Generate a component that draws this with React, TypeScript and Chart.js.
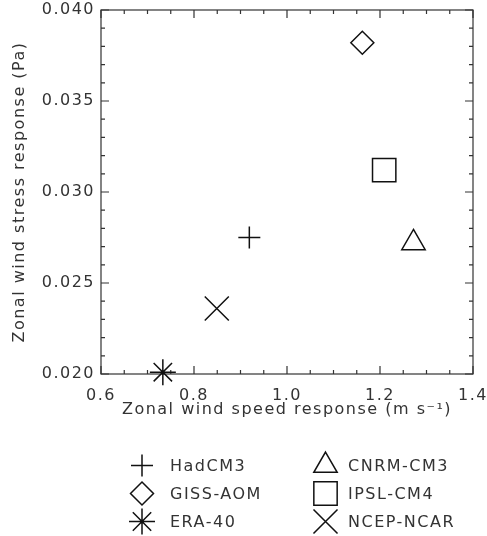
import React, { useEffect, useRef } from "react";
import { Chart, registerables } from "chart.js";
import { drawPoint } from "chart.js/helpers";

Chart.register(...registerables);

const modelNames = ["HadCM3", "GISS-AOM", "ERA-40", "CNRM-CM3", "IPSL-CM4", "NCEP-NCAR"];
const windSpeedResponse = [0.919, 1.162, 0.733, 1.272, 1.209, 0.849];
const windStressResponse = [0.0275, 0.0382, 0.0201, 0.0272, 0.0312, 0.0236];
const markerStyles = ["cross", "rectRot", "star", "triangle", "rect", "crossRot"];
const markerRadii = [11, 11.5, 13, 13.5, 16.5, 17];

const xTitle = "Zonal wind speed response (m s\u207B\u00B9)";
const yTitle = "Zonal wind stress response (Pa)";

const FONT = "'DejaVu Sans', sans-serif";
const FS = 16;
const TEXT_COLOR = "#333";
const LINE_COLOR = "#111";
const LS = "1.5px";

const spacingPlugin = {
  id: "spacing",
  beforeUpdate(chart: any) {
    chart.ctx.letterSpacing = LS;
  },
  beforeDraw(chart: any) {
    chart.ctx.letterSpacing = LS;
  },
};

const framePlugin = {
  id: "frame",
  beforeDatasetsDraw(chart: any) {
    const { ctx, chartArea } = chart;
    const xs = chart.scales.x;
    const ys = chart.scales.y;
    const { left, right, top, bottom } = chartArea;
    ctx.save();
    ctx.strokeStyle = "#333";
    ctx.lineWidth = 1.2;
    ctx.strokeRect(left, top, right - left, bottom - top);
    const major = 8;
    const minor = 4;
    ctx.beginPath();
    for (let i = 0; i <= 16; i++) {
      const v = 0.6 + i * 0.05;
      const px = xs.getPixelForValue(v);
      const len = i % 4 === 0 ? major : minor;
      ctx.moveTo(px, bottom);
      ctx.lineTo(px, bottom - len);
      ctx.moveTo(px, top);
      ctx.lineTo(px, top + len);
    }
    for (let i = 0; i <= 20; i++) {
      const v = 0.02 + i * 0.001;
      const py = ys.getPixelForValue(v);
      const len = i % 5 === 0 ? major : minor;
      ctx.moveTo(left, py);
      ctx.lineTo(left + len, py);
      ctx.moveTo(right, py);
      ctx.lineTo(right - len, py);
    }
    ctx.stroke();
    ctx.restore();
  },
};

const legendPlugin = {
  id: "twoColLegend",
  afterDraw(chart: any) {
    const { ctx } = chart;
    const symX = [142, 325.5];
    const txtX = [170, 348];
    const rowY = [465.5, 493.5, 521.5];
    ctx.save();
    ctx.letterSpacing = LS;
    ctx.font = `${FS}px ${FONT}`;
    ctx.textAlign = "left";
    ctx.textBaseline = "middle";
    chart.data.datasets.forEach((ds: any, i: number) => {
      const col = i < 3 ? 0 : 1;
      const row = i % 3;
      ctx.strokeStyle = LINE_COLOR;
      ctx.fillStyle = "rgba(0,0,0,0)";
      ctx.lineWidth = 1.5;
      drawPoint(
        ctx,
        { pointStyle: ds.pointStyle, radius: ds.pointRadius, rotation: 0, borderWidth: 1.5 },
        symX[col],
        rowY[row]
      );
      ctx.fillStyle = TEXT_COLOR;
      ctx.fillText(ds.label, txtX[col], rowY[row] + 1);
    });
    ctx.restore();
  },
};

export default function App() {
  const canvasRef = useRef<HTMLCanvasElement>(null);

  useEffect(() => {
    if (!canvasRef.current) return;
    const datasets = modelNames.map((name, i) => ({
      label: name,
      data: [{ x: windSpeedResponse[i], y: windStressResponse[i] }],
      pointStyle: markerStyles[i],
      pointRadius: markerRadii[i],
      pointHoverRadius: markerRadii[i],
      borderColor: LINE_COLOR,
      backgroundColor: "rgba(0,0,0,0)",
      pointBorderWidth: 1.5,
      borderWidth: 1.5,
      clip: false as any,
    }));
    const chart = new Chart(canvasRef.current, {
      type: "scatter",
      data: { datasets },
      plugins: [spacingPlugin, framePlugin, legendPlugin],
      options: {
        animation: false,
        responsive: true,
        maintainAspectRatio: false,
        layout: { autoPadding: false, padding: { top: 10, right: 14, left: 0, bottom: 100 } },
        plugins: {
          legend: { display: false },
          tooltip: { enabled: false },
        },
        scales: {
          x: {
            type: "linear",
            min: 0.6,
            max: 1.4,
            grid: { display: false, drawTicks: false },
            border: { display: false },
            ticks: {
              stepSize: 0.2,
              padding: 12,
              color: TEXT_COLOR,
              font: { family: FONT, size: FS },
              maxRotation: 0,
              callback: (v: any) => Number(v).toFixed(1),
            },
            title: {
              display: true,
              text: xTitle,
              color: TEXT_COLOR,
              font: { family: FONT, size: FS },
              padding: { top: 0, bottom: 17 },
            },
            afterFit: (scale: any) => {
              scale.height = 62;
              scale.paddingLeft = 0;
              scale.paddingRight = 0;
            },
          },
          y: {
            type: "linear",
            min: 0.02,
            max: 0.04,
            grid: { display: false, drawTicks: false },
            border: { display: false },
            ticks: {
              stepSize: 0.005,
              padding: 6,
              color: TEXT_COLOR,
              font: { family: FONT, size: FS },
              callback: (v: any) => Number(v).toFixed(3),
            },
            title: {
              display: true,
              text: yTitle,
              color: TEXT_COLOR,
              font: { family: FONT, size: FS },
              padding: { top: 10, bottom: 0 },
            },
            afterFit: (scale: any) => {
              scale.width = 101;
              scale.paddingTop = 0;
              scale.paddingBottom = 0;
            },
          },
        },
      },
    });
    return () => chart.destroy();
  }, []);

  return (
    <div style={{ position: "fixed", left: 0, top: 0, width: 487, height: 536, background: "#fff" }}>
      <canvas ref={canvasRef} />
    </div>
  );
}
